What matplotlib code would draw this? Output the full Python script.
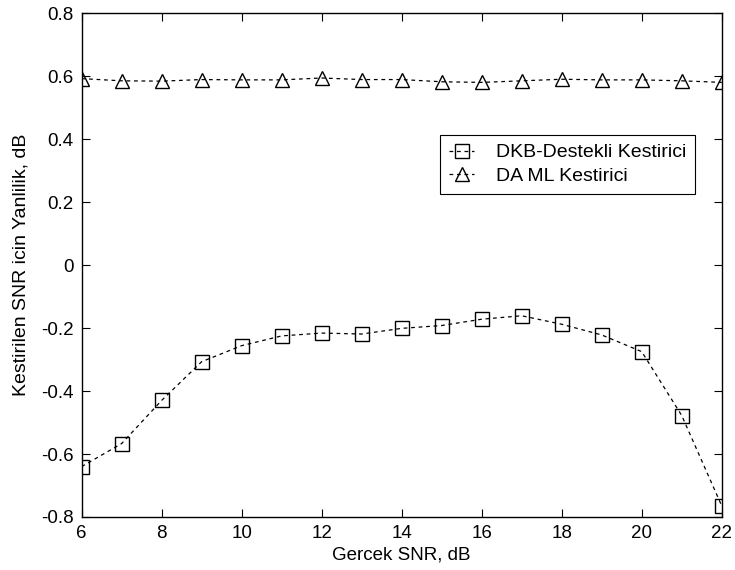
import matplotlib
matplotlib.use("Agg")
import matplotlib.pyplot as plt

plt.rcParams['font.family'] = ['Liberation Sans', 'DejaVu Sans']
plt.rcParams['axes.unicode_minus'] = False

snr = [6, 7, 8, 9, 10, 11, 12, 13, 14, 15, 16, 17, 18, 19, 20, 21, 22]
dkb = [-0.64, -0.567, -0.43, -0.307, -0.256, -0.225, -0.216, -0.219, -0.201,
       -0.192, -0.172, -0.161, -0.188, -0.222, -0.275, -0.478, -0.765]
daml = [0.592, 0.585, 0.584, 0.589, 0.588, 0.588, 0.594, 0.589, 0.589,
        0.582, 0.580, 0.585, 0.590, 0.588, 0.588, 0.585, 0.580]
labels = ['DKB-Destekli Kestirici', 'DA ML Kestirici']
xticks = [6, 8, 10, 12, 14, 16, 18, 20, 22]
yticks = [-0.8, -0.6, -0.4, -0.2, 0, 0.2, 0.4, 0.6, 0.8]
yticklabels = ['-0.8', '-0.6', '-0.4', '-0.2', '0', '0.2', '0.4', '0.6', '0.8']

FS = 13.5

fig = plt.figure(figsize=(7.35, 5.70), dpi=100)
ax = fig.add_axes([0.111, 0.093, 0.871, 0.884])

ls = (0, (3, 3))
ax.plot(snr, dkb, color='black', linestyle=ls, linewidth=0.9, marker='s',
        markersize=9.5, markerfacecolor='none', markeredgecolor='black',
        markeredgewidth=1.0, label=labels[0])
ax.plot(snr, daml, color='black', linestyle=ls, linewidth=0.9, marker='^',
        markersize=9.5, markerfacecolor='none', markeredgecolor='black',
        markeredgewidth=1.0, label=labels[1])

ax.set_xlim(6, 22)
ax.set_ylim(-0.8, 0.8)
ax.set_xticks(xticks)
ax.set_yticks(yticks)
ax.set_yticklabels(yticklabels)
ax.tick_params(direction='in', top=True, right=True, labelsize=FS, length=6, width=0.8)
ax.tick_params(axis='x', pad=6)
ax.tick_params(axis='y', pad=6)
for s in ax.spines.values():
    s.set_linewidth(1.0)
    s.set_color('black')

ax.set_xlabel('Gercek SNR, dB', fontsize=FS, labelpad=3)
ax.set_ylabel('Kestirilen SNR icin Yanlilik, dB', fontsize=14, labelpad=8)

leg = ax.legend(loc='upper right', bbox_to_anchor=(0.958, 0.758), fontsize=14,
                fancybox=False, framealpha=1, edgecolor='black', handlelength=1.3,
                borderpad=0.45, labelspacing=0.3, handletextpad=1.1,
                borderaxespad=0)
leg.get_frame().set_linewidth(0.8)

fig.savefig('out.png', dpi=100)
